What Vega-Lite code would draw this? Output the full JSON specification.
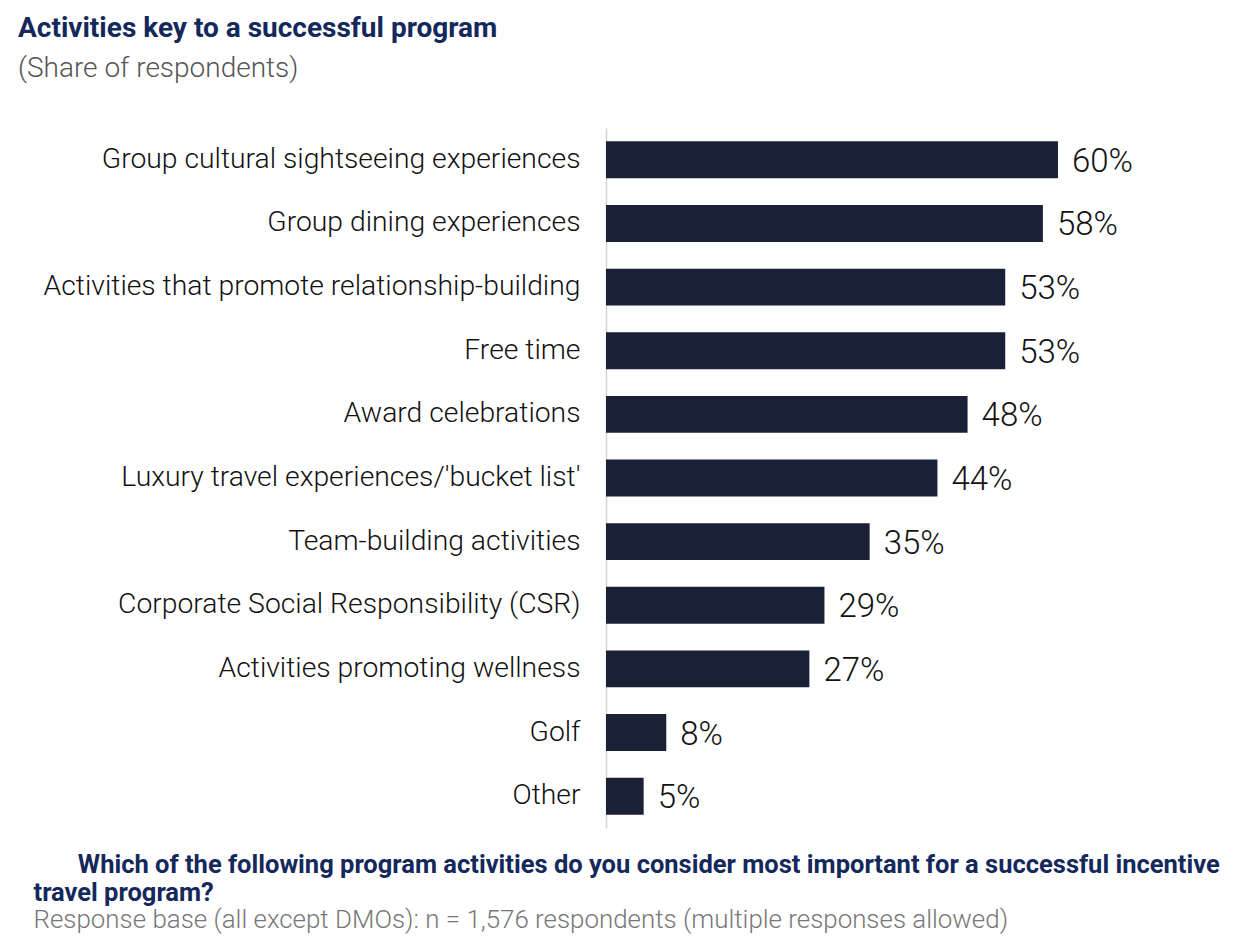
{
  "$schema": "https://vega.github.io/schema/vega-lite/v6.json",
  "description": "Activities key to a successful program",
  "autosize": {"type": "none"},
  "padding": {"left": 606, "top": 128, "right": 0, "bottom": 120},
  "width": 650,
  "height": 700,
  "background": "white",
  "config": {"view": {"stroke": null}},
  "title": {
    "text": "Activities key to a successful program",
    "subtitle": "(Share of respondents)",
    "anchor": "start",
    "frame": "group",
    "dx": -588,
    "offset": 45,
    "font": "Roboto",
    "fontSize": 28,
    "fontWeight": "bold",
    "color": "#14285c",
    "subtitleFont": "Roboto",
    "subtitleFontSize": 28,
    "subtitleFontWeight": 300,
    "subtitleColor": "#555555",
    "subtitlePadding": 12
  },
  "data": {
    "values": [
      {"activity": "Group cultural sightseeing experiences", "share": 0.60},
      {"activity": "Group dining experiences", "share": 0.58},
      {"activity": "Activities that promote relationship-building", "share": 0.53},
      {"activity": "Free time", "share": 0.53},
      {"activity": "Award celebrations", "share": 0.48},
      {"activity": "Luxury travel experiences/'bucket list'", "share": 0.44},
      {"activity": "Team-building activities", "share": 0.35},
      {"activity": "Corporate Social Responsibility (CSR)", "share": 0.29},
      {"activity": "Activities promoting wellness", "share": 0.27},
      {"activity": "Golf", "share": 0.08},
      {"activity": "Other", "share": 0.05}
    ]
  },
  "encoding": {
    "y": {
      "field": "activity",
      "type": "nominal",
      "sort": null,
      "scale": {"paddingInner": 0.42, "paddingOuter": 0.21},
      "axis": {
        "title": null,
        "ticks": false,
        "domainColor": "#d4d4d4",
        "domainWidth": 1.5,
        "labelFont": "Roboto",
        "labelFontSize": 28.3,
        "labelFontWeight": 300,
        "labelColor": "#111111",
        "labelPadding": 26,
        "labelLimit": 700
      }
    }
  },
  "layer": [
    {
      "mark": {"type": "bar", "color": "#1a2136"},
      "encoding": {
        "x": {
          "field": "share",
          "type": "quantitative",
          "scale": {"domain": [0, 0.8629], "nice": false},
          "axis": {
            "orient": "bottom",
            "domain": false,
            "labels": false,
            "ticks": false,
            "grid": false,
            "title": ["\u200b\u00a0\u00a0\u00a0\u00a0\u00a0\u00a0\u00a0Which of the following program activities do you consider most important for a successful incentive", "travel program?"],
            "titleFont": "Roboto",
            "titleFontSize": 25.5,
            "titleFontWeight": "bold",
            "titleColor": "#14285c",
            "titleAnchor": "start",
            "titleAlign": "left",
            "titleBaseline": "alphabetic",
            "titleLineHeight": 28,
            "titleLimit": 1300,
            "titleX": -573,
            "titleY": 44
          }
        }
      }
    },
    {
      "mark": {
        "type": "text",
        "align": "left",
        "baseline": "middle",
        "dx": 14,
        "dy": 2,
        "font": "Roboto",
        "fontSize": 33,
        "fontWeight": 300,
        "color": "#111111"
      },
      "encoding": {
        "x": {
          "field": "share",
          "type": "quantitative",
          "axis": {
            "orient": "bottom",
            "domain": false,
            "labels": false,
            "ticks": false,
            "grid": false,
            "title": "Response base (all except DMOs): n = 1,576 respondents (multiple responses allowed)",
            "titleFont": "Roboto",
            "titleFontSize": 25.9,
            "titleFontWeight": 300,
            "titleColor": "#777777",
            "titleAnchor": "start",
            "titleAlign": "left",
            "titleBaseline": "alphabetic",
            "titleLimit": 1300,
            "titleX": -573,
            "titleY": 99
          }
        },
        "text": {"field": "share", "type": "quantitative", "format": ".0%"}
      }
    }
  ],
  "resolve": {"axis": {"x": "independent"}}
}
